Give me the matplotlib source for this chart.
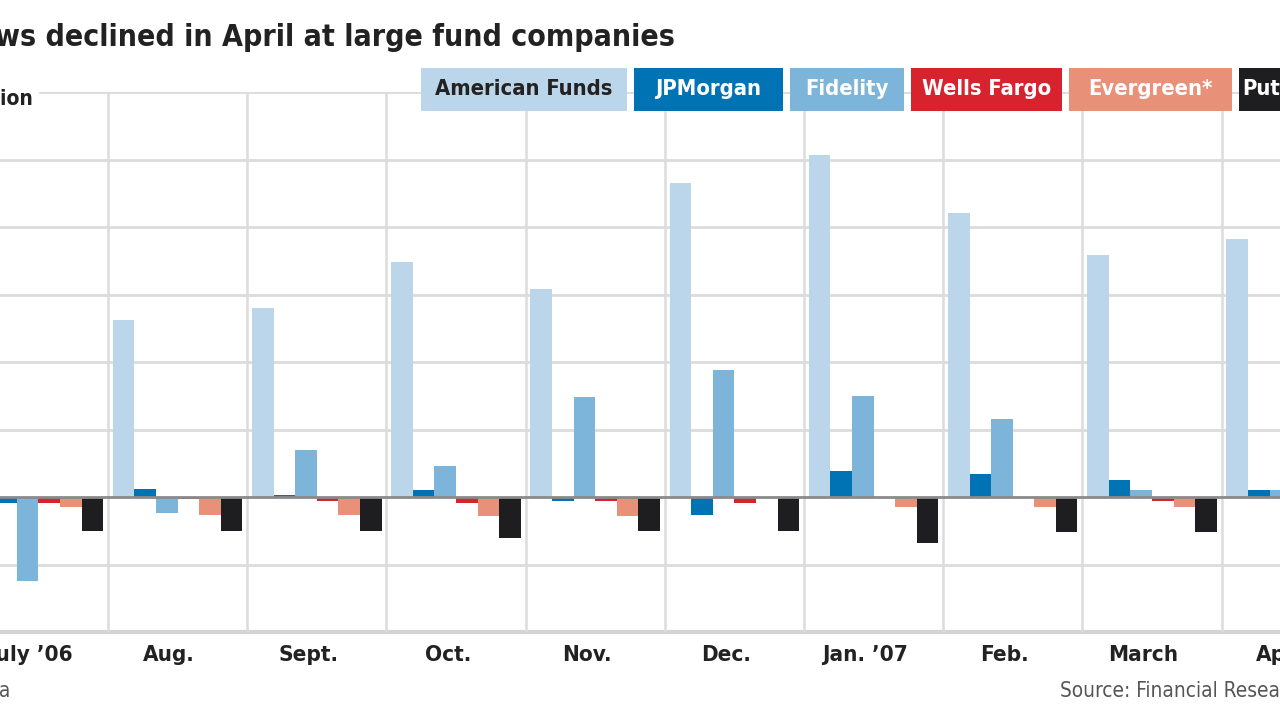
import matplotlib.pyplot as plt
import matplotlib.transforms as mtransforms
from matplotlib.patches import Rectangle
from matplotlib.font_manager import FontProperties, findfont
import numpy as np

# pick a condensed face if one is installed, else a narrow-ish sans
cond = findfont(FontProperties(family="DejaVu Sans", weight="bold", stretch="condensed"))
if "Condensed" in cond:
    FAM, STRETCH = ["DejaVu Sans"], "condensed"
else:
    FAM, STRETCH = ["Roboto", "DejaVu Sans"], "normal"
plt.rcParams['font.family'] = FAM

# Monthly net flows, $ billion
months = ["July ’06", "Aug.", "Sept.", "Oct.", "Nov.", "Dec.",
          "Jan. ’07", "Feb.", "March", "April"]
american_funds = [4.8, 5.24, 5.6, 6.96, 6.16, 9.3, 10.13, 8.42, 7.17, 7.65]
jpmorgan = [-0.18, 0.24, 0.05, 0.2, -0.12, -0.53, 0.77, 0.67, 0.5, 0.2]
fidelity = [-2.5, -0.48, 1.39, 0.92, 2.96, 3.76, 2.99, 2.31, 0.2, 0.2]
wells_fargo = [-0.17, -0.05, -0.12, -0.18, -0.12, -0.17, -0.03, -0.03, -0.11, -0.1]
evergreen = [-0.3, -0.53, -0.53, -0.56, -0.56, -0.02, -0.29, -0.29, -0.29, -0.3]
putnam = [-1.0, -1.0, -1.0, -1.21, -1.0, -1.0, -1.35, -1.04, -1.04, -1.0]

series = [
    ("American Funds", american_funds, "#bbd6eb", "#222222"),
    ("JPMorgan", jpmorgan, "#0073b4", "white"),
    ("Fidelity", fidelity, "#7db4da", "white"),
    ("Wells Fargo", wells_fargo, "#d6232d", "white"),
    ("Evergreen*", evergreen, "#e89178", "white"),
    ("Putnam", putnam, "#1e1e20", "white"),
]
legend_box_px = [206, 149, 114, 151, 163, 92]  # box widths, layout only

W, H = 1280, 720
fig = plt.figure(figsize=(W / 100, H / 100), dpi=100)
renderer = fig.canvas.get_renderer()


def size_for(text, target_px, weight="bold"):
    # font size that makes `text` target_px wide
    t = fig.text(0, 0, text, fontsize=20, fontweight=weight, fontstretch=STRETCH)
    w = t.get_window_extent(renderer).width
    t.remove()
    return 20 * target_px / w


title_fs = size_for("vs declined in April at large fund companies", 675)
month_fs = size_for("March", 70)
legend_fs = size_for("American Funds", 178)
unit_fs = size_for("ion", 33)
source_fs = size_for("Source: Financial Resea", 220, weight="normal")

ax = fig.add_axes([0, (H - 632) / H, 1, 540 / H])
ax.set_xlim(-0.276, 8.92)
ax.set_ylim(-4, 12)
ax.set_axis_off()

x = np.arange(len(months))
bw = 0.155

for k, (name, vals, col, _) in enumerate(series):
    ax.bar(x + (k - 2.5) * bw, vals, width=bw, color=col, zorder=3, linewidth=0)

# grid
for yv in range(-2, 12, 2):
    if yv == 0:
        continue
    ax.axhline(yv, color="#dcdcdc", lw=2, zorder=1)
ax.axhline(12, xmin=40 / W, color="#dcdcdc", lw=2, zorder=1)
ax.axhline(-4, color="#d4d4d4", lw=3, zorder=1, clip_on=False)
for xv in x[:-1] + 0.5:
    ax.axvline(xv, color="#dcdcdc", lw=1.8, zorder=1)
ax.axhline(0, color="#8a8a8a", lw=2, zorder=4)

# month labels
trans = mtransforms.blended_transform_factory(ax.transData, fig.transFigure)
for i, m in enumerate(months):
    ax.text(i - 0.06, 1 - 661 / H, m, transform=trans, ha="center", va="baseline",
            fontsize=month_fs, fontweight="bold", fontstretch=STRETCH, color="#222222")

# title, unit label, notes
fig.text(675 / W, 1 - 46 / H, "Inflows declined in April at large fund companies",
         ha="right", va="baseline", fontsize=title_fs, fontweight="bold",
         fontstretch=STRETCH, color="#222222")
fig.text(33 / W, 1 - 105 / H, "In $ billion", ha="right", va="baseline",
         fontsize=unit_fs, fontweight="bold", fontstretch=STRETCH, color="#222222")
fig.text(10 / W, 1 - 697 / H, "*Evergreen is a unit of Wachovia", ha="right",
         va="baseline", fontsize=source_fs, fontstretch=STRETCH, color="#555555")
fig.text(1060 / W, 1 - 697 / H, "Source: Financial Research Corp.", ha="left",
         va="baseline", fontsize=source_fs, fontstretch=STRETCH, color="#555555")

# legend boxes
xpos = 421
for (name, vals, col, tcol), bwpx in zip(series, legend_box_px):
    fig.text((xpos + bwpx / 2) / W, 1 - 89 / H, name, ha="center", va="center",
             fontsize=legend_fs, fontweight="bold", fontstretch=STRETCH,
             color=tcol, zorder=6)
    fig.patches.append(Rectangle((xpos / W, 1 - 111 / H), bwpx / W, 43 / H,
                                 transform=fig.transFigure, facecolor=col,
                                 edgecolor="none", zorder=5))
    xpos += bwpx + 7

fig.savefig("out.png", dpi=100)
